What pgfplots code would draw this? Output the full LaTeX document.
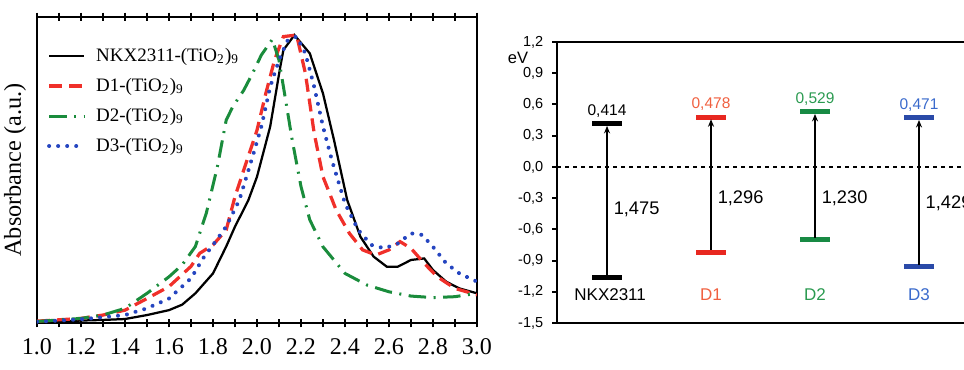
\documentclass[border=0pt]{standalone}
\usepackage{fontspec}
\setmainfont{Liberation Serif}
\newfontfamily\sansf{Liberation Sans}
\usepackage{pgfplots}
\pgfplotsset{compat=1.18}
\usetikzlibrary{arrows.meta}
\definecolor{cred}{HTML}{F0302A}
\definecolor{cgreen}{HTML}{1A8C3C}
\definecolor{cblue}{HTML}{2545C0}
\definecolor{bred}{HTML}{E82820}
\definecolor{lred}{HTML}{F06040}
\definecolor{bgreen}{HTML}{188A44}
\definecolor{lgreen}{HTML}{2A9A50}
\definecolor{bblue}{HTML}{2A4AA8}
\definecolor{lblue}{HTML}{3A6ACC}
\begin{document}
\begin{tikzpicture}
\useasboundingbox (0,0) rectangle (385.6pt,147.6pt);
\clip (0,0) rectangle (385.6pt,147.6pt);
% ---------------- left panel
\begin{axis}[
  at={(14.8pt,18.4pt)}, anchor=south west,
  scale only axis, width=176pt, height=122.4pt,
  xmin=1, xmax=3, ymin=0, ymax=1,
  xtick={1.0,1.2,...,3.0}, minor x tick num=1,
  xtick pos=both, tick align=center,
  major tick length=3.4pt, minor tick length=3.4pt,
  every tick/.style={black, line width=0.6pt},
  ytick=\empty,
  axis line style={line width=0.8pt},
  /pgf/number format/.cd, fixed, fixed zerofill, precision=1, assume math mode=true,
  /pgfplots/.cd,
  xticklabel style={font=\fontsize{9.6}{11}\selectfont, yshift=-1pt},
  ylabel={Absorbance (a.u.)},
  ylabel style={font=\fontsize{9.7}{11}\selectfont, at={(axis description cs:-0.05,0.5)}, anchor=center},
  legend style={draw=none, fill=none, inner sep=0pt, outer sep=0pt,
    at={(axis description cs:0.023,0.905)}, anchor=north west,
    font=\fontsize{7.6}{9}\selectfont, row sep=4pt,
    nodes={inner sep=0pt, text height=6pt, text depth=2pt},
    /tikz/every odd column/.append style={column sep=4pt}},
  legend cell align=left,
  legend image code/.code={\draw[#1] (0pt,0pt) -- (14pt,0pt);},
]
\addplot[black, line width=0.9pt] coordinates {
(1.0,0.003)(1.1,0.005)(1.2,0.008)(1.3,0.010)(1.4,0.013)(1.5,0.026)(1.6,0.042)(1.66,0.060)
(1.72,0.097)(1.8,0.162)(1.86,0.25)(1.9,0.315)(1.96,0.40)(2.0,0.478)(2.06,0.642)(2.106,0.838)
(2.12,0.892)(2.17,0.941)(2.24,0.881)(2.30,0.75)(2.35,0.598)(2.41,0.402)(2.47,0.282)(2.53,0.217)
(2.59,0.184)(2.64,0.184)(2.70,0.206)(2.76,0.211)(2.80,0.173)(2.86,0.135)(2.92,0.113)(3.0,0.097)};
\addlegendentry{NKX2311-(TiO\textsubscript{2})\textsubscript{9}}
\addplot[cred, line width=1.3pt, dash pattern=on 5.2pt off 2.8pt] coordinates {
(1.0,0.006)(1.2,0.015)(1.3,0.026)(1.4,0.042)(1.5,0.08)(1.6,0.119)(1.7,0.185)(1.74,0.228)
(1.8,0.255)(1.86,0.304)(1.9,0.413)(1.96,0.544)(2.0,0.63)(2.04,0.75)(2.08,0.86)(2.12,0.936)
(2.18,0.941)(2.22,0.816)(2.26,0.62)(2.30,0.478)(2.36,0.369)(2.42,0.293)(2.48,0.239)(2.54,0.222)
(2.6,0.239)(2.65,0.266)(2.70,0.244)(2.76,0.195)(2.82,0.151)(2.9,0.113)(3.0,0.092)};
\addlegendentry{D1-(TiO\textsubscript{2})\textsubscript{9}}
\addplot[cgreen, line width=1.2pt, dash pattern=on 7pt off 3pt on 0.8pt off 3pt] coordinates {
(1.0,0.005)(1.2,0.015)(1.3,0.026)(1.4,0.048)(1.5,0.097)(1.6,0.151)(1.66,0.19)(1.72,0.250)
(1.77,0.360)(1.82,0.511)(1.86,0.663)(1.89,0.707)(1.94,0.761)(1.98,0.816)(2.02,0.876)(2.07,0.927)
(2.10,0.859)(2.13,0.729)(2.16,0.598)(2.20,0.446)(2.24,0.337)(2.30,0.249)(2.40,0.162)(2.50,0.124)
(2.60,0.102)(2.70,0.088)(2.80,0.083)(2.90,0.086)(3.00,0.097)};
\addlegendentry{D2-(TiO\textsubscript{2})\textsubscript{9}}
\addplot[cblue, line width=1.6pt, line cap=round, dash pattern=on 0.01pt off 3.6pt] coordinates {
(1.0,0.004)(1.2,0.012)(1.4,0.026)(1.5,0.048)(1.6,0.08)(1.7,0.146)(1.76,0.217)(1.8,0.255)
(1.86,0.315)(1.92,0.402)(1.98,0.544)(2.02,0.642)(2.06,0.772)(2.10,0.859)(2.14,0.925)(2.18,0.936)
(2.22,0.881)(2.26,0.772)(2.30,0.642)(2.34,0.533)(2.40,0.391)(2.46,0.304)(2.52,0.255)(2.58,0.244)
(2.64,0.26)(2.70,0.293)(2.75,0.288)(2.80,0.249)(2.86,0.195)(2.92,0.162)(3.0,0.135)};
\addlegendentry{D3-(TiO\textsubscript{2})\textsubscript{9}}
\node[anchor=north, inner sep=0pt, font=\fontsize{9.6}{11}\selectfont] at (axis description cs:0.943,-0.108) {eV};
\end{axis}
% ---------------- right panel
\begin{axis}[
  at={(222.8pt,18.4pt)}, anchor=south west,
  scale only axis, width=165.6pt, height=112.4pt,
  xmin=0.519, xmax=4.5, ymin=-1.5, ymax=1.2,
  xtick=\empty, ytick={-1.5,-1.2,...,1.21},
  ytick pos=left, tick align=outside, major tick length=2pt,
  every tick/.style={black, line width=0.8pt},
  axis line style={line width=1.1pt},
  /pgf/number format/.cd, fixed, fixed zerofill, precision=1, use comma, assume math mode=true,
  /pgfplots/.cd,
  yticklabel style={font=\sansf\fontsize{5.8}{7}\selectfont},
  clip=false,
]
\addplot[black, line width=0.8pt, dash pattern=on 1.6pt off 1.6pt, forget plot] coordinates {(0.519,0)(4.5,0)};
% levels
\addplot[black, line width=2pt] coordinates {(0.856,0.414)(1.144,0.414)};
\addplot[black, line width=2pt] coordinates {(0.856,-1.061)(1.144,-1.061)};
\addplot[bred, line width=2pt] coordinates {(1.856,0.478)(2.144,0.478)};
\addplot[bred, line width=2pt] coordinates {(1.856,-0.818)(2.144,-0.818)};
\addplot[bgreen, line width=2pt] coordinates {(2.856,0.529)(3.144,0.529)};
\addplot[bgreen, line width=2pt] coordinates {(2.856,-0.701)(3.144,-0.701)};
\addplot[bblue, line width=2pt] coordinates {(3.856,0.471)(4.144,0.471)};
\addplot[bblue, line width=2pt] coordinates {(3.856,-0.958)(4.144,-0.958)};
% transitions
\addplot[black, line width=0.5pt, -{Stealth[length=3pt,width=2.4pt]}] coordinates {(1,-1.041)(1,0.394)};
\addplot[black, line width=0.5pt, -{Stealth[length=3pt,width=2.4pt]}] coordinates {(2,-0.798)(2,0.458)};
\addplot[black, line width=0.5pt, -{Stealth[length=3pt,width=2.4pt]}] coordinates {(3,-0.681)(3,0.509)};
\addplot[black, line width=0.5pt, -{Stealth[length=3pt,width=2.4pt]}] coordinates {(4,-0.938)(4,0.451)};
% labels
\begin{scope}[every node/.style={font=\sansf\fontsize{6.2}{7}\selectfont, inner sep=0pt}]
\node[anchor=south, black] at (axis cs:1,0.47) {0,414};
\node[anchor=south, lred] at (axis cs:2,0.534) {0,478};
\node[anchor=south, lgreen] at (axis cs:3,0.585) {0,529};
\node[anchor=south, lblue] at (axis cs:4,0.527) {0,471};
\end{scope}
\begin{scope}[every node/.style={font=\sansf\fontsize{7.3}{8}\selectfont, inner sep=0pt, anchor=west}]
\node at (axis cs:1.06,-0.405) {1,475};
\node at (axis cs:2.06,-0.299) {1,296};
\node at (axis cs:3.06,-0.299) {1,230};
\node at (axis cs:4.06,-0.347) {1,429};
\end{scope}
\begin{scope}[every node/.style={font=\sansf\fontsize{6.8}{8}\selectfont, inner sep=0pt}]
\node[black] at (axis cs:1.03,-1.231) {NKX2311};
\node[lred] at (axis cs:2.0,-1.231) {D1};
\node[lgreen] at (axis cs:3.0,-1.231) {D2};
\node[lblue] at (axis cs:4.0,-1.231) {D3};
\end{scope}
\node[font=\sansf\fontsize{6.6}{8}\selectfont, inner sep=0pt] at (axis description cs:-0.094,0.943) {eV};
\end{axis}
\end{tikzpicture}
\end{document}
